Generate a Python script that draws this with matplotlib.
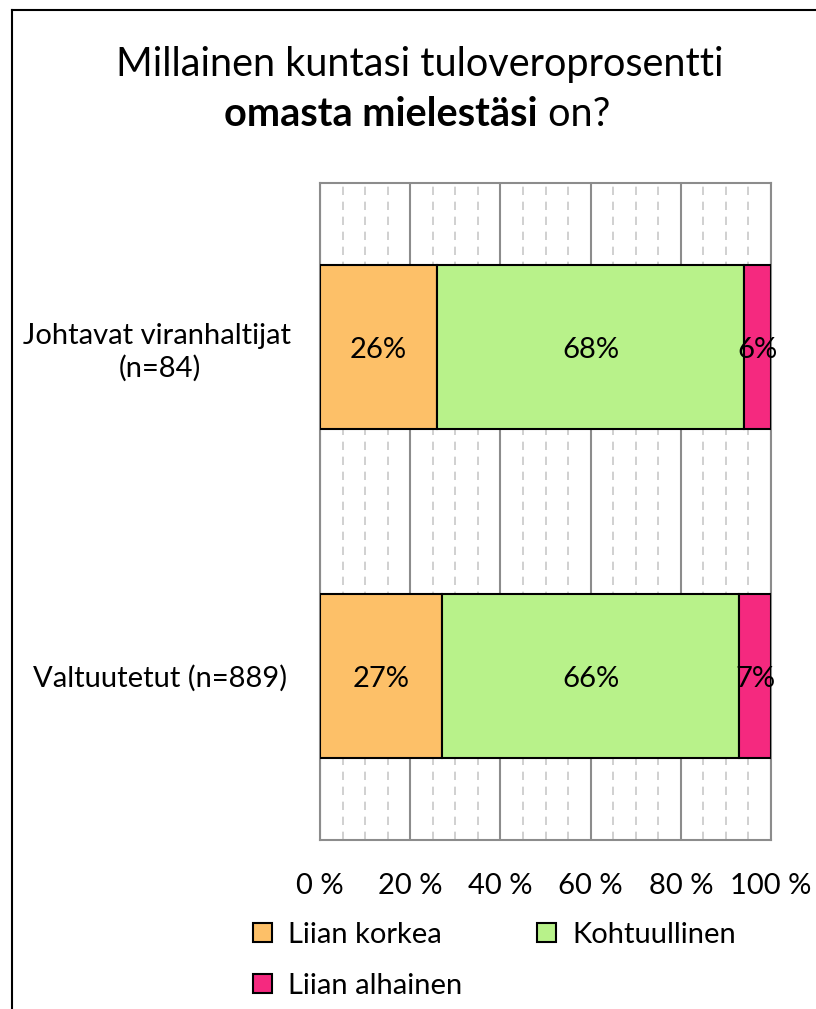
import matplotlib
matplotlib.use("Agg")
import matplotlib.pyplot as plt
from matplotlib.patches import Patch
from matplotlib.lines import Line2D
from matplotlib.ticker import MultipleLocator, FixedLocator

# ---- data ----
categories = ["Valtuutetut (n=889)", "Johtavat viranhaltijat \n(n=84)"]
series_names = ["Liian korkea", "Kohtuullinen", "Liian alhainen"]
liian_korkea = [27, 26]
kohtuullinen = [66, 68]
liian_alhainen = [7, 6]
x_ticks = [0, 20, 40, 60, 80, 100]
x_tick_labels = ["0 %", "20 %", "40 %", "60 %", "80 %", "100 %"]
title_line1 = "Millainen kuntasi tuloveroprosentti"
title_bold = "omasta mielestäsi"
title_rest = " on?"

colors = ["#FDC068", "#B8F28A", "#F5297F"]
FONT = "Lato"
plt.rcParams['font.family'] = [FONT, 'DejaVu Sans']
FS = 21
TFS = 28.5

W, H = 816, 1009
fig = plt.figure(figsize=(W / 100, H / 100), dpi=100)
ax = fig.add_axes([320 / W, 1 - 840 / H, 451 / W, 657 / H])

series = [liian_korkea, kohtuullinen, liian_alhainen]
ypos = list(range(len(categories)))
left = [0] * len(categories)
for vals, col, name in zip(series, colors, series_names):
    bars = ax.barh(ypos, vals, left=left, height=0.5, color=col,
                   edgecolor="black", linewidth=1.5, label=name, zorder=3)
    for b, v in zip(bars, vals):
        ax.annotate(f"{v}%", (b.get_x() + b.get_width() / 2, b.get_y() + b.get_height() / 2),
                    xytext=(0, -2), textcoords="offset points",
                    ha="center", va="center", fontsize=FS, color="black", zorder=4)
    left = [l + v for l, v in zip(left, vals)]

ax.set_xlim(0, 100)
ax.set_ylim(-0.5, len(categories) - 0.5)
ax.xaxis.set_major_locator(FixedLocator(x_ticks))
ax.set_xticklabels(x_tick_labels, fontsize=FS)
ax.xaxis.set_minor_locator(MultipleLocator(5))
ax.grid(axis="x", which="major", color="#8C8C8C", linewidth=1.5, linestyle="-", zorder=0)
ax.grid(axis="x", which="minor", color="#C8C8C8", linewidth=1.2, linestyle=(0, (5, 4)), zorder=0)
ax.set_axisbelow(True)
for s in ax.spines.values():
    s.set_color("#8C8C8C")
    s.set_linewidth(1.5)
ax.tick_params(axis="x", which="both", length=0, pad=24)
ax.set_yticks(ypos)
ax.set_yticklabels(categories, fontsize=FS, ha="center", multialignment="center",
                   linespacing=1.25)
ax.tick_params(axis="y", length=0, pad=115)

# legend (row-major order like the reference: korkea, kohtuullinen / alhainen)
patches = [Patch(facecolor=c, edgecolor="black", linewidth=1.5) for c in colors]
order = [0, 2, 1]
fig.legend([patches[i] for i in order], [series_names[i] for i in order],
           loc="upper left", bbox_to_anchor=(253 / W, 1 - 922 / H),
           ncol=2, frameon=False, fontsize=FS, handlelength=0.65, handleheight=0.65,
           handletextpad=0.55, columnspacing=2.57, labelspacing=0.85, borderaxespad=0,
           borderpad=0)

# title
fig.text(420 / W, 1 - 76 / H, title_line1, ha="center", va="baseline", fontsize=TFS)
fig.canvas.draw()
r = fig.canvas.get_renderer()
tb = fig.text(0, 1 - 126 / H, title_bold, ha="left", va="baseline", fontsize=TFS, fontweight="bold")
tr = fig.text(0, 1 - 126 / H, title_rest, ha="left", va="baseline", fontsize=TFS)
wb = tb.get_window_extent(r).width
wr = tr.get_window_extent(r).width
x0 = 417 - (wb + wr) / 2
tb.set_x(x0 / W)
tr.set_x((x0 + wb) / W)

# figure border (top and left visible)
fig.add_artist(Line2D([12 / W, 1], [1 - 10 / H, 1 - 10 / H], color="black", linewidth=1.5,
                      transform=fig.transFigure))
fig.add_artist(Line2D([12 / W, 12 / W], [0, 1 - 10 / H], color="black", linewidth=1.5,
                      transform=fig.transFigure))

fig.savefig("out.png", dpi=100)
